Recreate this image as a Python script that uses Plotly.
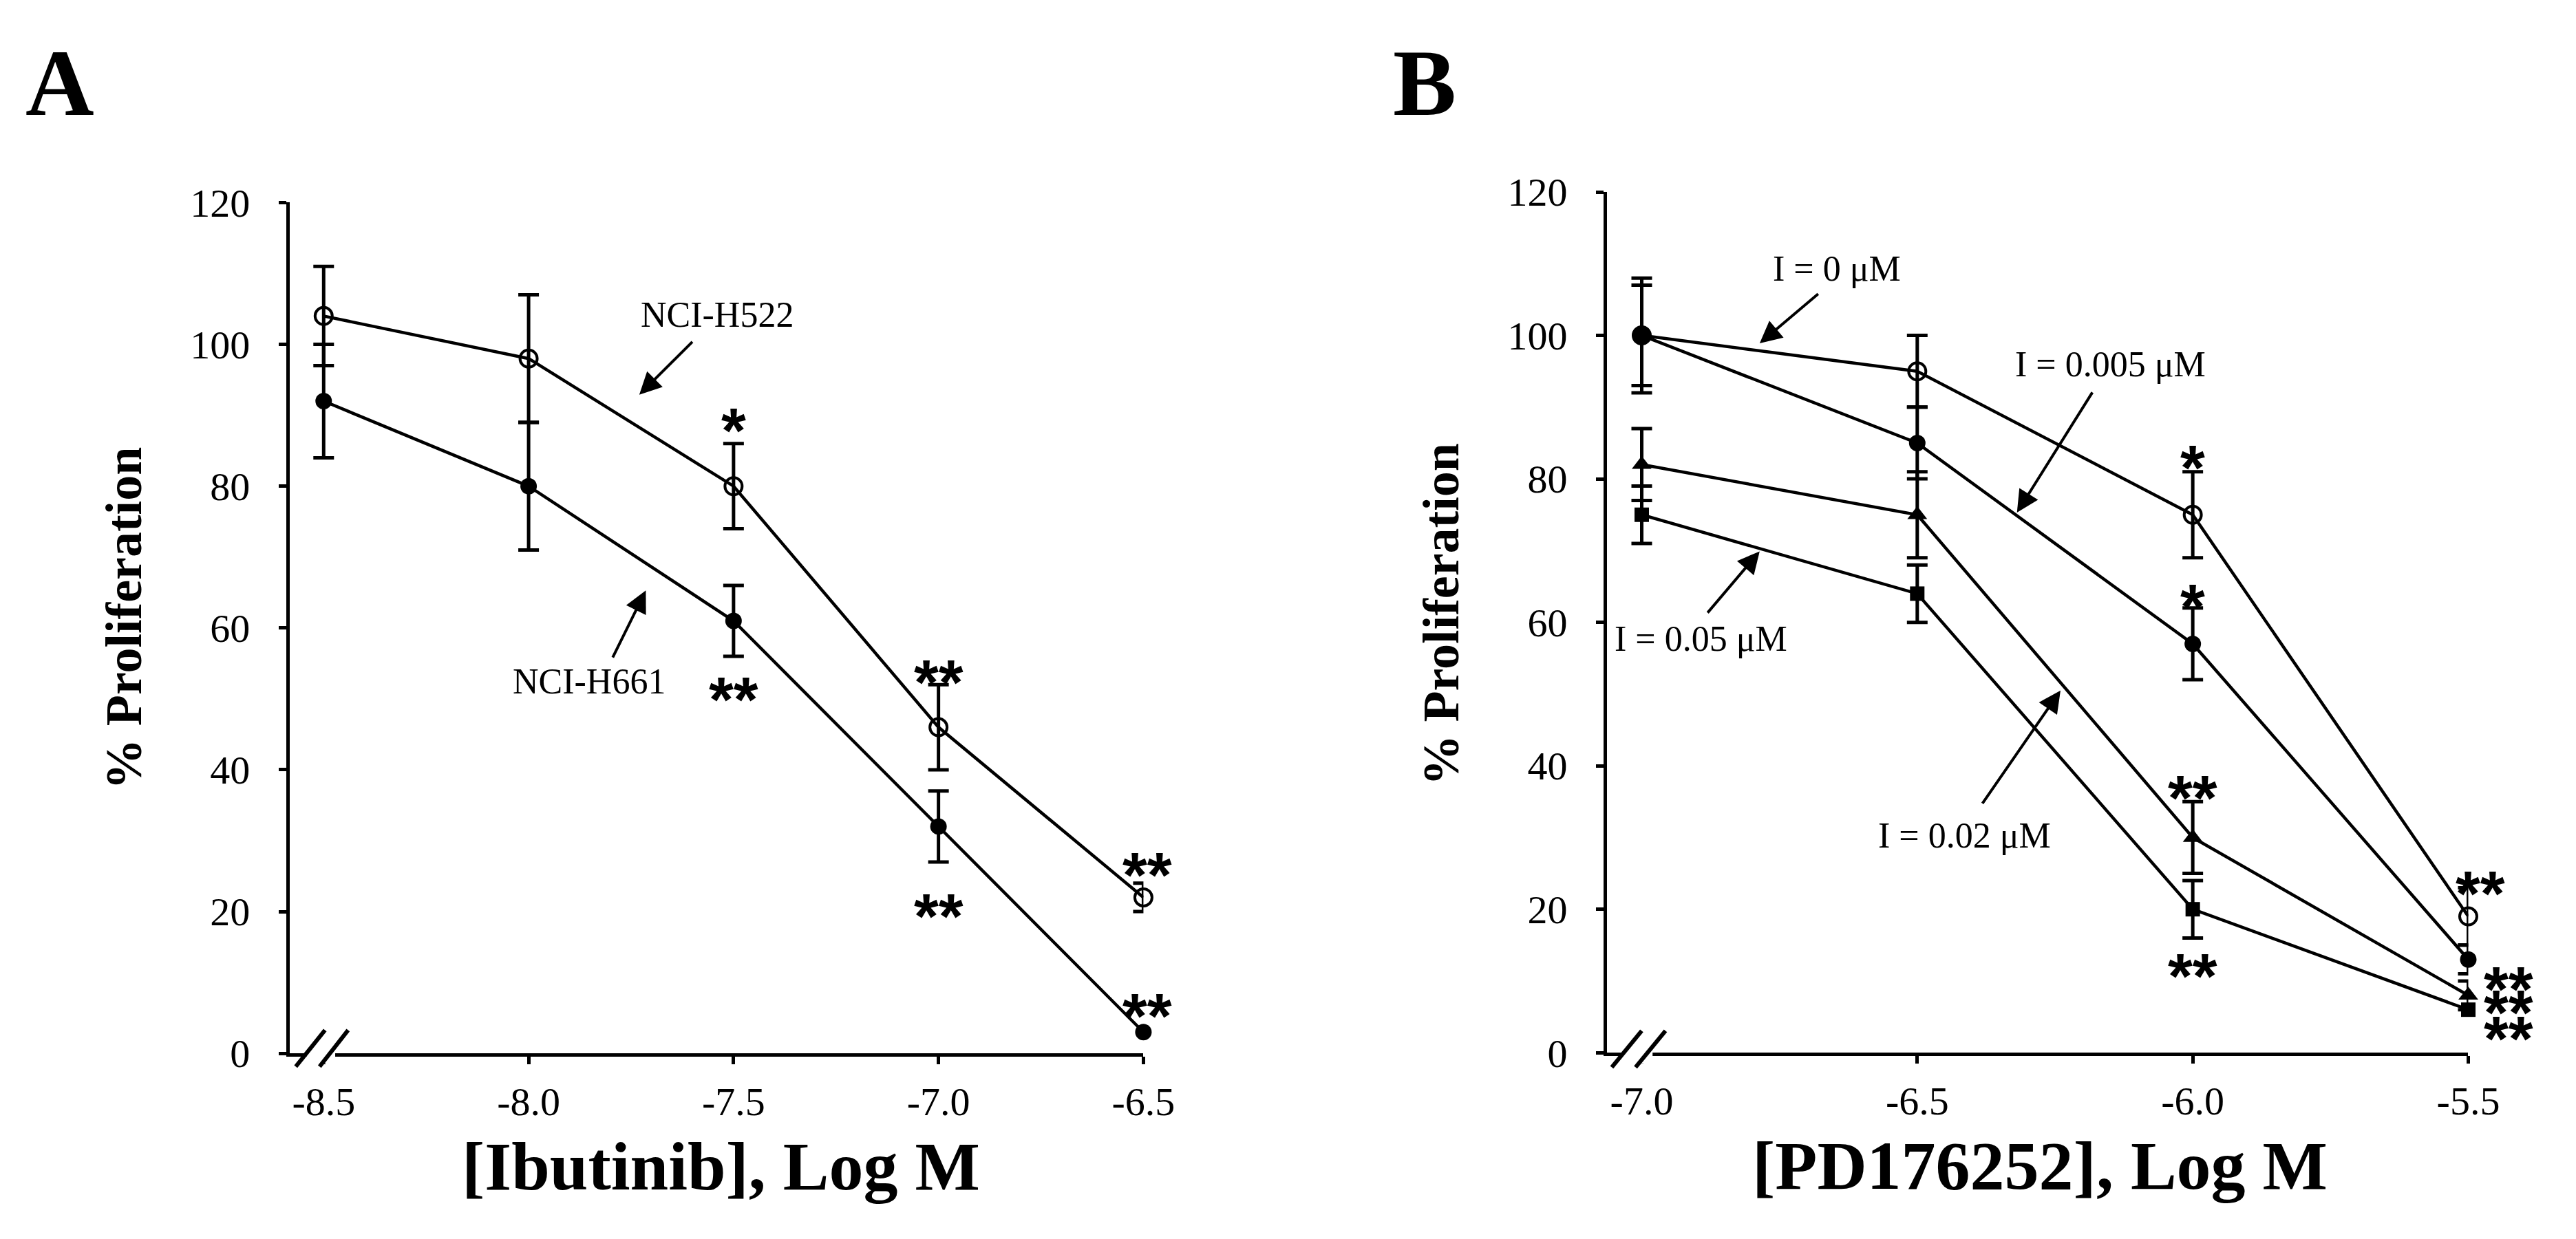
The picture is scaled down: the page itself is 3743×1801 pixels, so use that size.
import plotly.graph_objects as go

W, H = 3743, 1801

# ---- panel A data ----
x_a = [-8.5, -8.0, -7.5, -7.0, -6.5]
h522 = [104, 98, 80, 46, 22]
h522_err = [7, 9, 6, 6, 2]
h661 = [92, 80, 61, 32, 3]
h661_err = [8, 9, 5, 5]          # no bar on the last point
ticks_a = [-8.5, -8.0, -7.5, -7.0, -6.5]
ticktext_a = ["-8.5", "-8.0", "-7.5", "-7.0", "-6.5"]

# ---- panel B data ----
x_b = [-7.0, -6.5, -6.0, -5.5]
i0 = [100, 95, 75, 19]
i0_err = [8, 5, 6, 4]
i005 = [100, 85, 57, 13]
i005_err = [7, 5, 5, 2]
i02 = [82, 75, 30, 8]
i02_err = [5, 6, 5, 2]
i05 = [75, 64, 20, 6]
i05_err = [4, 4, 4]
ticks_b = [-7.0, -6.5, -6.0, -5.5]
ticktext_b = ["-7.0", "-6.5", "-6.0", "-5.5"]

y_ticks = [0, 20, 40, 60, 80, 100, 120]

# significance marks: (text, x, y, horizontal offset in px)
stars_a = [("*", -7.5, 90, 0), ("**", -7.5, 52, 0), ("**", -7.0, 54.5, 0), ("**", -7.0, 21.5, 0),
           ("**", -6.5, 27.3, 6), ("**", -6.5, 7.4, 6)]
stars_b = [("*", -6.0, 83.7, 0), ("*", -6.0, 64.3, 0), ("**", -6.0, 37.6, 0), ("**", -6.0, 12.8, 0),
           ("**", -5.5, 24.3, 18), ("**", -5.5, 11.0, 59), ("**", -5.5, 7.7, 59), ("**", -5.5, 4.0, 59)]

# labels with arrows: (text, text_x, text_y, tail_x, tail_y, head_x, head_y)
labels_a = [("NCI-H522", -7.540, 104.2, -7.598, 100.5, -7.730, 92.9),
            ("NCI-H661", -7.853, 52.5, -7.796, 55.7, -7.714, 65.3)]
labels_b = [("I = 0 μM", -6.646, 109.3, -6.678, 105.9, -6.786, 98.9),
            ("I = 0.005 μM", -6.149, 96.0, -6.181, 92.2, -6.319, 75.3),
            ("I = 0.05 μM", -6.892, 57.7, -6.882, 61.2, -6.786, 69.9),
            ("I = 0.02 μM", -6.414, 30.3, -6.383, 34.6, -6.240, 50.5)]

SERIF = "Liberation Serif"
SANS = "Liberation Sans"


def px(x):
    return x / W


def py(y):
    return 1 - y / H


def series(x, y, err, symbol, size, xa, ya, lw=0):
    return go.Scatter(
        x=x, y=y, xaxis=xa, yaxis=ya, mode="lines+markers", cliponaxis=False,
        line=dict(color="black", width=4.5),
        marker=dict(symbol=symbol, size=size, color="black",
                    line=dict(color="black", width=lw)),
        error_y=dict(type="data", array=err, color="black", thickness=5, width=15),
    )


fig = go.Figure()
fig.add_trace(series(x_a, h522, h522_err, "circle-open", 25, "x", "y", 4))
fig.add_trace(series(x_a, h661, h661_err, "circle", 24, "x", "y"))
fig.add_trace(series(x_b, i0, i0_err, "circle-open", 25, "x2", "y2", 4))
fig.add_trace(series(x_b, i005, i005_err, "circle", 24, "x2", "y2"))
fig.add_trace(series(x_b, i02, i02_err, "triangle-up", 25, "x2", "y2"))
fig.add_trace(series(x_b, i05, i05_err, "square", 21, "x2", "y2"))

axis_style = dict(showline=True, linecolor="black", linewidth=5, ticks="outside",
                  ticklen=11, tickwidth=5, tickcolor="black", showgrid=False,
                  zeroline=False, tickfont=dict(family=SERIF, size=58, color="black"))

fig.update_layout(
    width=W, height=H, margin=dict(l=0, r=0, t=0, b=0),
    paper_bgcolor="white", plot_bgcolor="white", showlegend=False,
    xaxis=dict(domain=[px(418), px(1674)], range=[-8.583, -6.5], tickvals=ticks_a,
               ticktext=ticktext_a, ticklabelstandoff=4, anchor="y", **axis_style),
    yaxis=dict(domain=[py(1547), py(264)], range=[0, 120], tickvals=y_ticks,
               ticklabelstandoff=30, anchor="x", **axis_style),
    xaxis2=dict(domain=[px(2356), px(3623)], range=[-7.063, -5.5], tickvals=ticks_b,
                ticktext=ticktext_b, ticklabelstandoff=4, anchor="y2", **axis_style),
    yaxis2=dict(domain=[py(1546), py(248)], range=[0, 120], tickvals=y_ticks,
                ticklabelstandoff=30, anchor="x2", **axis_style),
)

ann = []
for (t, x, y, dx), (xr, yr) in [(s, ("x", "y")) for s in stars_a] + [(s, ("x2", "y2")) for s in stars_b]:
    ann.append(dict(text=t, x=x, y=y, xref=xr, yref=yr, showarrow=False, yshift=-22, xshift=dx,
                    font=dict(family=SANS, size=92, color="black", weight="bold")))

for labs, xr, yr in [(labels_a, "x", "y"), (labels_b, "x2", "y2")]:
    for t, tx, ty, ax, ay, hx, hy in labs:
        ann.append(dict(text=t, x=tx, y=ty, xref=xr, yref=yr, showarrow=False,
                        font=dict(family=SERIF, size=52, color="black")))
        ann.append(dict(text="", x=hx, y=hy, xref=xr, yref=yr, ax=ax, ay=ay,
                        axref=xr, ayref=yr, showarrow=True, arrowhead=2, arrowsize=1.6,
                        arrowwidth=4, arrowcolor="black", standoff=0, startstandoff=0))

# panel letters and axis titles
for t, x, y, size, ang in [("A", 80, 83, 138, 0), ("B", 2088, 84, 138, 0),
                           ("[Ibutinib], Log M", 1052, 1718, 100, 0),
                           ("[PD176252], Log M", 2993, 1716, 100, 0),
                           ("% Proliferation", 174, 891, 74, -90),
                           ("% Proliferation", 2112, 885, 74, -90)]:
    ann.append(dict(text="<b>%s</b>" % t, x=px(x), y=py(y), xref="paper", yref="paper",
                    showarrow=False, textangle=ang, xanchor="center", yanchor="middle",
                    font=dict(family=SERIF, size=size, color="black")))
fig.update_layout(annotations=ann)

# axis breaks "//" near the origin of each panel
shapes = []
for gap, slashes in [((443, 485), [(427, 1567, 470, 1512), (462, 1567, 504, 1512)]),
                     ((2380, 2423), [(2363, 1568, 2407, 1513), (2398, 1568, 2442, 1513)])]:
    shapes.append(dict(type="rect", xref="paper", yref="paper", x0=px(gap[0]), x1=px(gap[1]),
                       y0=py(1562), y1=py(1538), fillcolor="white", line=dict(width=0),
                       layer="above"))
    for x0, y0, x1, y1 in slashes:
        shapes.append(dict(type="line", xref="paper", yref="paper", x0=px(x0), y0=py(y0),
                           x1=px(x1), y1=py(y1), line=dict(color="black", width=6),
                           layer="above"))
fig.update_layout(shapes=shapes)

fig.write_html("out.html")
